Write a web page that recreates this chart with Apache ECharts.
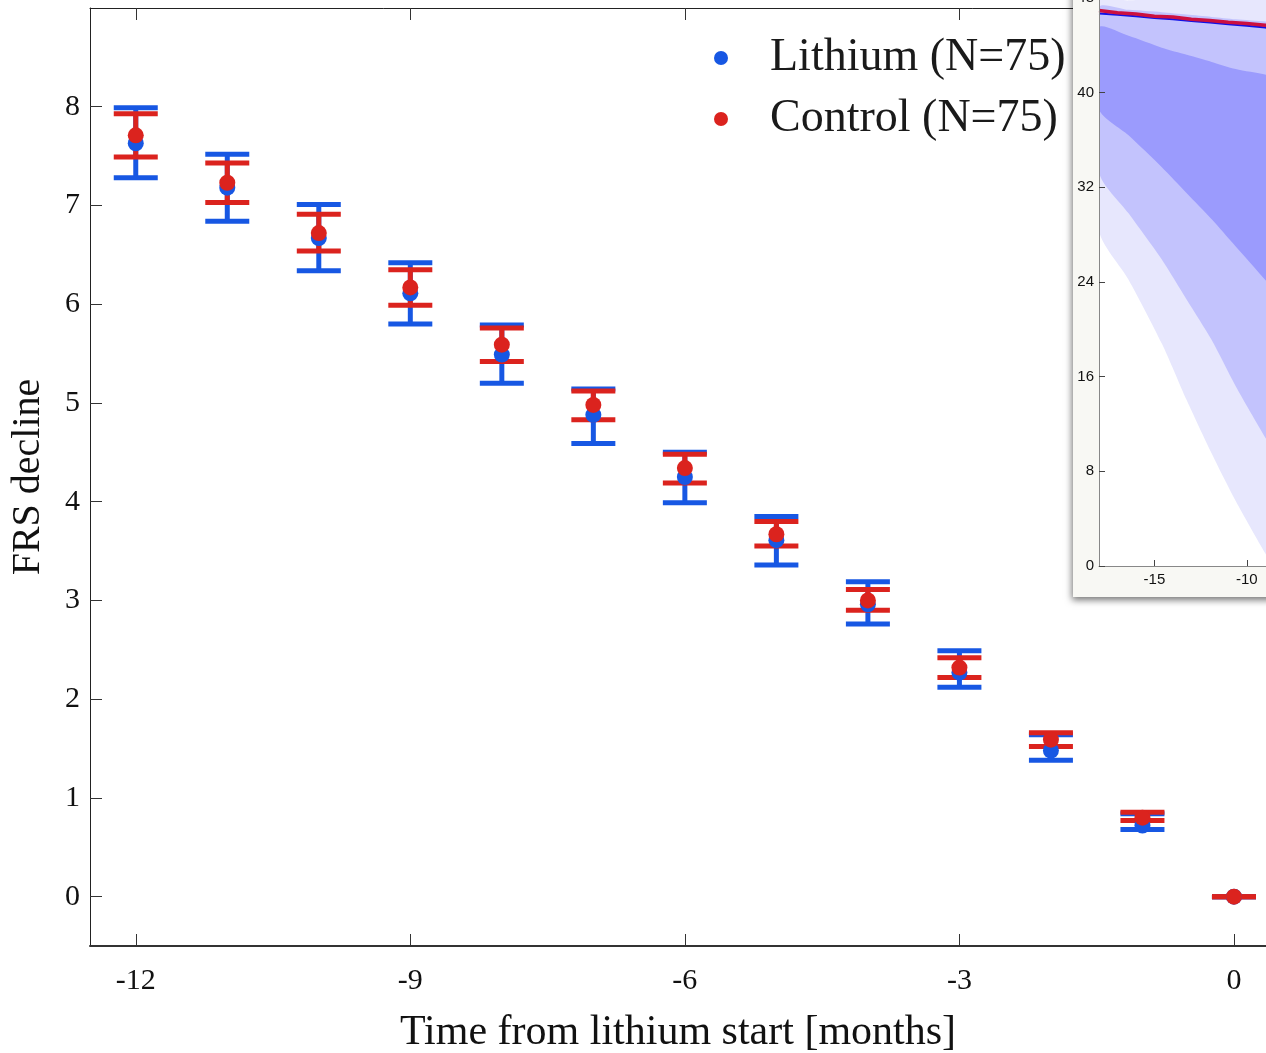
<!DOCTYPE html>
<html>
<head>
<meta charset="utf-8">
<script src="https://cdn.jsdelivr.net/npm/echarts@6/dist/echarts.min.js"></script>
<style>
html,body{margin:0;padding:0;background:#fff;}
#chart{width:1266px;height:1053px;}
</style>
</head>
<body>
<div id="chart"></div>
<script>
// ---- main chart data ----
const months = [-12, -11, -10, -9, -8, -7, -6, -5, -4, -3, -2, -1, 0];
const lithiumMean = [7.63, 7.18, 6.67, 6.11, 5.49, 4.88, 4.25, 3.61, 2.96, 2.27, 1.48, 0.72, 0];
const lithiumLow  = [7.28, 6.84, 6.34, 5.80, 5.20, 4.59, 3.99, 3.36, 2.76, 2.12, 1.38, 0.68, 0];
const lithiumHigh = [7.99, 7.52, 7.01, 6.42, 5.79, 5.14, 4.50, 3.85, 3.19, 2.49, 1.64, 0.84, 0];
const controlMean = [7.71, 7.23, 6.72, 6.17, 5.59, 4.98, 4.34, 3.67, 3.00, 2.32, 1.59, 0.80, 0];
const controlLow  = [7.49, 7.03, 6.54, 5.99, 5.42, 4.83, 4.19, 3.55, 2.90, 2.22, 1.52, 0.77, 0];
const controlHigh = [7.93, 7.43, 6.91, 6.35, 5.76, 5.12, 4.48, 3.80, 3.11, 2.42, 1.66, 0.855, 0];
const xTicks = [-12, -9, -6, -3, 0];
const yTicks = [0, 1, 2, 3, 4, 5, 6, 7, 8];
const legendNames = ['Lithium (N=75)', 'Control (N=75)'];

// ---- inset data ----
const insetX = [-18, -16.4, -14.6, -13.25, -11.9, -10.6, -8.9, -8.2];
const band3Top = [47.7, 47.8, 47.9, 48, 48, 48, 48, 48];
const band2Top = [47.2, 47.0, 46.8, 46.6, 46.4, 46.2, 46.0, 45.9];
const band1Top = [45.5, 44.8, 43.8, 43.2, 42.6, 42.0, 41.5, 41.2];
const band1Bot = [38.6, 36.4, 33.7, 31.5, 29.3, 27.0, 24.0, 22.7];
const band2Bot = [33.3, 29.8, 25.9, 22.5, 19.1, 15.2, 10.6, 8.8];
const band3Bot = [28.4, 24.2, 18.8, 14.0, 9.5, 5.5, 0.8, -1.0];
const insetLineX = [-18, -17, -16, -15, -14, -13, -12, -11, -10, -9, -8.5];
const insetControl = [46.95, 46.75, 46.65, 46.45, 46.4, 46.2, 46.1, 45.95, 45.85, 45.7, 45.65];
const insetLithium = [46.7, 46.58, 46.45, 46.32, 46.2, 46.05, 45.92, 45.78, 45.65, 45.5, 45.45];
const insetXTicks = [-15, -10];
const insetYTicks = [0, 8, 16, 24, 32, 40, 48];

const BLUE = '#1757e3';
const RED = '#db231e';
const SERIF = 'Liberation Serif';

function errorBarSeries(name, low, high, color, z) {
  return {
    type: 'custom',
    name: name,
    xAxisIndex: 0, yAxisIndex: 0,
    z: z,
    data: months.map((m, i) => [m, low[i], high[i]]),
    renderItem: function (params, api) {
      const x = api.value(0);
      const lo = api.coord([x, api.value(1)]);
      const hi = api.coord([x, api.value(2)]);
      const hw = 22;
      const style = { stroke: color, lineWidth: 5 };
      return {
        type: 'group',
        children: [
          { type: 'line', shape: { x1: lo[0], y1: lo[1], x2: hi[0], y2: hi[1] }, style: style },
          { type: 'line', shape: { x1: lo[0] - hw, y1: lo[1], x2: lo[0] + hw, y2: lo[1] }, style: style },
          { type: 'line', shape: { x1: hi[0] - hw, y1: hi[1], x2: hi[0] + hw, y2: hi[1] }, style: style }
        ]
      };
    }
  };
}

function bandSeries(top, bot, color) {
  return {
    type: 'custom',
    xAxisIndex: 2, yAxisIndex: 1,
    z: 5,
    silent: true,
    clip: true,
    data: [0],
    renderItem: function (params, api) {
      const pts = [];
      for (let i = 0; i < insetX.length; i++) pts.push(api.coord([insetX[i], top[i]]));
      for (let i = insetX.length - 1; i >= 0; i--) pts.push(api.coord([insetX[i], bot[i]]));
      return { type: 'polygon', shape: { points: pts, smooth: 0.25 }, style: { fill: color } };
    }
  };
}

const chart = echarts.init(document.getElementById('chart'), null, { renderer: 'canvas' });

const option = {
  animation: false,
  backgroundColor: '#ffffff',
  grid: [
    { left: 90, top: 8, right: 0, bottom: 107, outerBoundsMode: 'none', containLabel: false },
    { left: 1099, top: -2, right: 0, bottom: 487, outerBoundsMode: 'none', containLabel: false,
      show: true, backgroundColor: '#ffffff', borderWidth: 0, z: 4 }
  ],
  xAxis: [
    {
      type: 'value', gridIndex: 0, min: -12.5, max: 0.35, position: 'bottom',
      axisLine: { show: true, onZero: false, lineStyle: { color: '#333', width: 2 } },
      axisTick: { show: true, inside: true, length: 12, customValues: xTicks, lineStyle: { color: '#333', width: 1 } },
      axisLabel: { customValues: xTicks, fontFamily: SERIF, fontSize: 30, color: '#111', margin: 20 },
      splitLine: { show: false },
      name: 'Time from lithium start [months]', nameLocation: 'middle', nameGap: 66,
      nameTextStyle: { fontFamily: SERIF, fontSize: 42, color: '#111' }
    },
    {
      type: 'value', gridIndex: 0, min: -12.5, max: 0.35, position: 'top',
      axisLine: { show: true, onZero: false, lineStyle: { color: '#222', width: 1 } },
      axisTick: { show: true, inside: true, length: 12, customValues: xTicks, lineStyle: { color: '#333', width: 1 } },
      axisLabel: { show: false },
      splitLine: { show: false }
    },
    {
      type: 'value', gridIndex: 1, min: -18, max: -8.96, position: 'bottom', z: 6,
      axisLine: { show: true, onZero: false, lineStyle: { color: '#888', width: 1 } },
      axisTick: { show: true, inside: true, length: 6, customValues: insetXTicks, lineStyle: { color: '#444', width: 1 } },
      axisLabel: { customValues: insetXTicks, fontFamily: 'Liberation Sans', fontSize: 15, color: '#111', margin: 6 },
      splitLine: { show: false }
    }
  ],
  yAxis: [
    {
      type: 'value', gridIndex: 0, min: -0.5, max: 9,
      axisLine: { show: true, onZero: false, lineStyle: { color: '#222', width: 1 } },
      axisTick: { show: true, inside: true, length: 12, customValues: yTicks, lineStyle: { color: '#333', width: 1 } },
      axisLabel: { customValues: yTicks, fontFamily: SERIF, fontSize: 30, color: '#111', margin: 10 },
      splitLine: { show: false },
      name: 'FRS decline', nameLocation: 'middle', nameGap: 42,
      nameTextStyle: { fontFamily: SERIF, fontSize: 40, color: '#111' }
    },
    {
      type: 'value', gridIndex: 1, min: 0, max: 48, z: 6,
      axisLine: { show: true, onZero: false, lineStyle: { color: '#888', width: 1 } },
      axisTick: { show: true, inside: true, length: 6, customValues: insetYTicks, lineStyle: { color: '#444', width: 1 } },
      axisLabel: { customValues: insetYTicks, fontFamily: 'Liberation Sans', fontSize: 15, color: '#111', margin: 5 },
      splitLine: { show: false }
    }
  ],
  legend: {
    orient: 'vertical',
    left: 709, top: 30,
    itemWidth: 88, itemHeight: 14, itemGap: 15,
    data: [
      { name: legendNames[0], icon: 'circle' },
      { name: legendNames[1], icon: 'circle' }
    ],
    textStyle: { fontFamily: SERIF, fontSize: 46, lineHeight: 46, color: '#1a1a1a' },
    selectedMode: false
  },
  graphic: [
    {
      type: 'rect', z: 3,
      shape: { x: 1073, y: -20, width: 260, height: 617 },
      style: { fill: '#f8f8f4', shadowBlur: 7, shadowColor: 'rgba(0,0,0,0.55)', shadowOffsetX: -1, shadowOffsetY: 3 }
    }
  ],
  series: [
    errorBarSeries('lithiumErr', lithiumLow, lithiumHigh, BLUE, 2),
    {
      type: 'scatter', name: legendNames[0], xAxisIndex: 0, yAxisIndex: 0, z: 2,
      symbol: 'circle', symbolSize: 16, itemStyle: { color: BLUE, opacity: 1 },
      data: months.map((m, i) => [m, lithiumMean[i]])
    },
    errorBarSeries('controlErr', controlLow, controlHigh, RED, 2),
    {
      type: 'scatter', name: legendNames[1], xAxisIndex: 0, yAxisIndex: 0, z: 2,
      symbol: 'circle', symbolSize: 16, itemStyle: { color: RED, opacity: 1 },
      data: months.map((m, i) => [m, controlMean[i]])
    },
    bandSeries(band3Top, band3Bot, '#e7e7fd'),
    bandSeries(band2Top, band2Bot, '#c3c3fd'),
    bandSeries(band1Top, band1Bot, '#9b9bfd'),
    {
      type: 'line', xAxisIndex: 2, yAxisIndex: 1, z: 5, silent: true,
      showSymbol: false, symbol: 'none',
      lineStyle: { color: '#1010e8', width: 2 },
      data: insetLineX.map((x, i) => [x, insetLithium[i]])
    },
    {
      type: 'line', xAxisIndex: 2, yAxisIndex: 1, z: 5, silent: true,
      showSymbol: false, symbol: 'none',
      lineStyle: { color: '#cc1040', width: 3.5 },
      data: insetLineX.map((x, i) => [x, insetControl[i]])
    }
  ]
};
chart.setOption(option);
</script>
</body>
</html>
